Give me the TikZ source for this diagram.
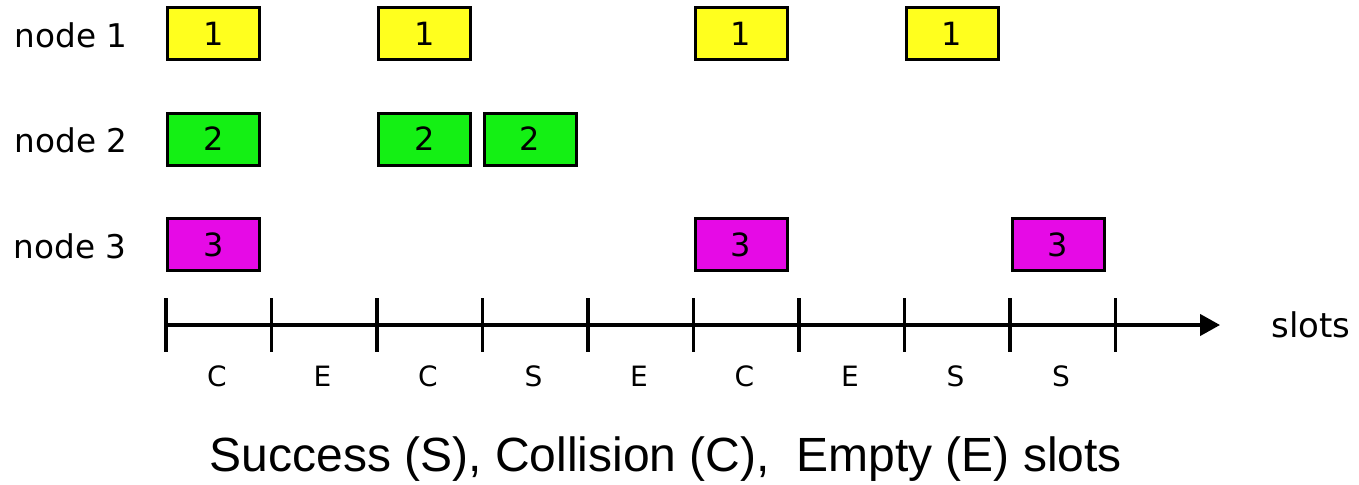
\documentclass[tikz,border=0pt]{standalone}
\usepackage{fontspec}
\setmainfont{Liberation Sans}
\newfontfamily\pixfont{DejaVu Sans}
\usetikzlibrary{arrows.meta}
\definecolor{boxyellow}{RGB}{255,255,30}
\definecolor{boxgreen}{RGB}{20,240,20}
\definecolor{boxmagenta}{RGB}{230,10,230}
\tikzset{
  slotbox/.style={draw=black, line width=2.25pt, minimum width=69pt, minimum height=39pt, inner sep=0pt, font=\pixfont\fontsize{24}{24}\selectfont},
  rowlabel/.style={font=\pixfont\fontsize{24.5}{24.5}\selectfont, inner sep=0pt},
  slotlabel/.style={font=\pixfont\fontsize{21}{21}\selectfont, inner sep=0pt},
  axisline/.style={line width=2.5pt, -{Triangle[length=15pt,width=16pt]}},
  tickline/.style={line width=2.3pt},
}
\begin{document}
\begin{tikzpicture}[x=0.75pt,y=-0.75pt]
\useasboundingbox (0,0) rectangle (1359,485);
% row labels
\node[rowlabel] (n1) at (71,35) {node 1};
\node[rowlabel] (n2) at (71,140.5) {node 2};
\node[rowlabel] (n3) at (70,246) {node 3};
% boxes  (slot k starts at 166+105.5k; centre +47.5)
\node[slotbox, fill=boxyellow] (a1) at (213.5,33.5) {1};
\node[slotbox, fill=boxyellow] (a2) at (424.5,33.5) {1};
\node[slotbox, fill=boxyellow] (a3) at (741,33.5) {1};
\node[slotbox, fill=boxyellow] (a4) at (952,33.5) {1};
\node[slotbox, fill=boxgreen] (b1) at (213.5,139) {2};
\node[slotbox, fill=boxgreen] (b2) at (424.5,139) {2};
\node[slotbox, fill=boxgreen] (b3) at (530,139) {2};
\node[slotbox, fill=boxmagenta] (c1) at (213.5,244.5) {3};
\node[slotbox, fill=boxmagenta] (c2) at (741,244.5) {3};
\node[slotbox, fill=boxmagenta] (c3) at (1058,244.5) {3};
% axis
\foreach \k in {0,...,9} {
  \coordinate (t\k) at ({166+105.5*\k},325);
  \draw[tickline] (t\k) ++(0,-27) -- ++(0,54);
}
\coordinate (aend) at (1220,325);
\draw[axisline] (t0) -- (aend);
\node[rowlabel, font=\pixfont\fontsize{25.5}{25.5}\selectfont] (sl) at (1311,325) {slots};
% slot letters
\foreach \k/\l in {0/C,1/E,2/C,3/S,4/E,5/C,6/E,7/S,8/S} {
  \node[slotlabel] (s\k) at ({217+105.5*\k},376) {\l};
}
\node[font=\fontsize{36}{36}\selectfont, inner sep=0pt, anchor=base] (cap) at (666,471) {Success (S), Collision (C),\ \ Empty (E) slots};
\end{tikzpicture}
\end{document}
